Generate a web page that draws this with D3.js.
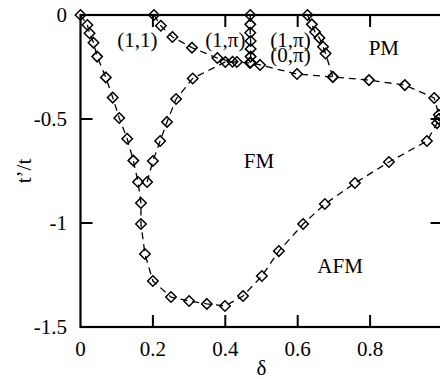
<!DOCTYPE html>
<html>
<head>
<meta charset="utf-8">
<script src="https://cdn.jsdelivr.net/npm/d3@7/dist/d3.min.js"></script>
<style>
    html, body { margin: 0; padding: 0; background: #fff; }
    svg { display: block; }
    text { font-family: "Liberation Serif", "Times New Roman", serif; fill: #000; }
</style>
</head>
<body>
<svg id="chart" width="440" height="379"></svg>
<script>
// phase boundaries, [delta, t'/t]
var fmAfmLine = [
    [0, 0], [0.019, -0.048], [0.025, -0.088], [0.036, -0.133], [0.046, -0.2],
    [0.07, -0.3], [0.089, -0.397], [0.107, -0.495], [0.129, -0.595], [0.146, -0.7],
    [0.159, -0.803], [0.167, -0.904], [0.167, -1.005], [0.178, -1.149], [0.2, -1.279],
    [0.25, -1.356], [0.3, -1.375], [0.349, -1.389], [0.399, -1.399], [0.449, -1.351],
    [0.501, -1.255], [0.548, -1.135], [0.615, -1.005], [0.675, -0.909], [0.758, -0.808],
    [0.852, -0.707], [0.957, -0.606], [0.985, -0.52], [0.99, -0.5]
];
var fmPmLine = [
    [0.184, -0.803], [0.2, -0.702], [0.22, -0.606], [0.239, -0.514], [0.264, -0.404],
    [0.31, -0.305], [0.4, -0.226], [0.432, -0.226], [0.468, -0.23], [0.496, -0.24],
    [0.598, -0.284], [0.697, -0.298], [0.797, -0.313], [0.896, -0.337], [0.977, -0.399],
    [0.99, -0.48], [0.99, -0.5]
];
var line11 = [
    [0.203, 0], [0.222, -0.052], [0.254, -0.106], [0.308, -0.157], [0.378, -0.207], [0.42, -0.225]
];
var line1pi = [
    [0.469, 0], [0.469, -0.045], [0.469, -0.085], [0.47, -0.125], [0.47, -0.163],
    [0.47, -0.2], [0.47, -0.228]
];
var line0pi = [
    [0.627, 0], [0.639, -0.045], [0.648, -0.082], [0.66, -0.11], [0.67, -0.153],
    [0.677, -0.185], [0.697, -0.298]
];
var curves = [fmAfmLine, fmPmLine, line11, line1pi, line0pi];

var xTicks = [0, 0.2, 0.4, 0.6, 0.8, 1];
var xTickLabels = ["0", "0.2", "0.4", "0.6", "0.8"];
var yTicks = [0, -0.5, -1, -1.5];
var yTickLabels = ["0", "-0.5", "-1", "-1.5"];
var labels = [
    { text: "(1,1)", x: 0.157, y: -0.155 },
    { text: "(1,\u03c0)", x: 0.4, y: -0.155 },
    { text: "(1,\u03c0)", x: 0.58, y: -0.155 },
    { text: "(0,\u03c0)", x: 0.58, y: -0.226 },
    { text: "PM", x: 0.838, y: -0.192 },
    { text: "FM", x: 0.493, y: -0.736 },
    { text: "AFM", x: 0.717, y: -1.24 }
];

var svg = d3.select("#chart");
var x = d3.scaleLinear().domain([0, 1]).range([80.5, 442.5]);
var y = d3.scaleLinear().domain([0, -1.5]).range([15, 327]);
var tickLen = 12;

// frame
svg.append("rect")
    .attr("x", x(0)).attr("y", y(0))
    .attr("width", x(1) - x(0)).attr("height", y(-1.5) - y(0))
    .attr("fill", "none").attr("stroke", "#000").attr("stroke-width", 2.2);

// inward ticks on all four sides
var inner = xTicks.slice(1, -1);
svg.selectAll("line.xt").data(inner).enter().append("line")
    .attr("x1", function(d){ return x(d); }).attr("x2", function(d){ return x(d); })
    .attr("y1", y(-1.5)).attr("y2", y(-1.5) - tickLen)
    .attr("stroke", "#000").attr("stroke-width", 2);
svg.selectAll("line.xtt").data(inner).enter().append("line")
    .attr("x1", function(d){ return x(d); }).attr("x2", function(d){ return x(d); })
    .attr("y1", y(0)).attr("y2", y(0) + tickLen)
    .attr("stroke", "#000").attr("stroke-width", 2);
var innerY = yTicks.slice(1, -1);
svg.selectAll("line.yt").data(innerY).enter().append("line")
    .attr("x1", x(0)).attr("x2", x(0) + tickLen)
    .attr("y1", function(d){ return y(d); }).attr("y2", function(d){ return y(d); })
    .attr("stroke", "#000").attr("stroke-width", 2);
svg.selectAll("line.ytr").data(innerY).enter().append("line")
    .attr("x1", x(1)).attr("x2", x(1) - tickLen)
    .attr("y1", function(d){ return y(d); }).attr("y2", function(d){ return y(d); })
    .attr("stroke", "#000").attr("stroke-width", 2);

// tick labels (the one at delta = 1 falls outside the picture)
svg.selectAll("text.xl").data(xTickLabels).enter().append("text")
    .attr("x", function(d, i){ return x(xTicks[i]); }).attr("y", 356)
    .attr("text-anchor", "middle").style("font-size", "21px")
    .text(function(d){ return d; });
svg.selectAll("text.yl").data(yTickLabels).enter().append("text")
    .attr("x", 67).attr("y", function(d, i){ return y(yTicks[i]) + 7; })
    .attr("text-anchor", "end").style("font-size", "21px")
    .text(function(d){ return d; });

// axis titles
svg.append("text")
    .attr("x", x(0.5)).attr("y", 375)
    .attr("text-anchor", "middle").style("font-size", "21px")
    .text("\u03b4");
svg.append("text")
    .attr("transform", "translate(31," + y(-0.75) + ") rotate(-90)")
    .attr("text-anchor", "middle").style("font-size", "21px")
    .text("t\u2019/t");

// dashed boundaries
var line = d3.line()
    .x(function(d){ return x(d[0]); })
    .y(function(d){ return y(d[1]); });
svg.selectAll("path.boundary").data(curves).enter().append("path")
    .classed("boundary", true)
    .attr("d", line)
    .attr("fill", "none").attr("stroke", "#000")
    .attr("stroke-width", 1.3).attr("stroke-dasharray", "7,5");

// diamond markers
var pts = d3.merge(curves);
var diamond = d3.symbol().type(d3.symbolDiamond2).size(70);
svg.selectAll("path.pt").data(pts).enter().append("path")
    .attr("transform", function(d){ return "translate(" + x(d[0]) + "," + y(d[1]) + ")"; })
    .attr("d", diamond)
    .attr("fill", "none").attr("stroke", "#000").attr("stroke-width", 1.5);

// region labels
svg.selectAll("text.lab").data(labels).enter().append("text")
    .attr("x", function(d){ return x(d.x); })
    .attr("y", function(d){ return y(d.y); })
    .attr("text-anchor", "middle").style("font-size", "21px")
    .text(function(d){ return d.text; });
</script>
</body>
</html>
